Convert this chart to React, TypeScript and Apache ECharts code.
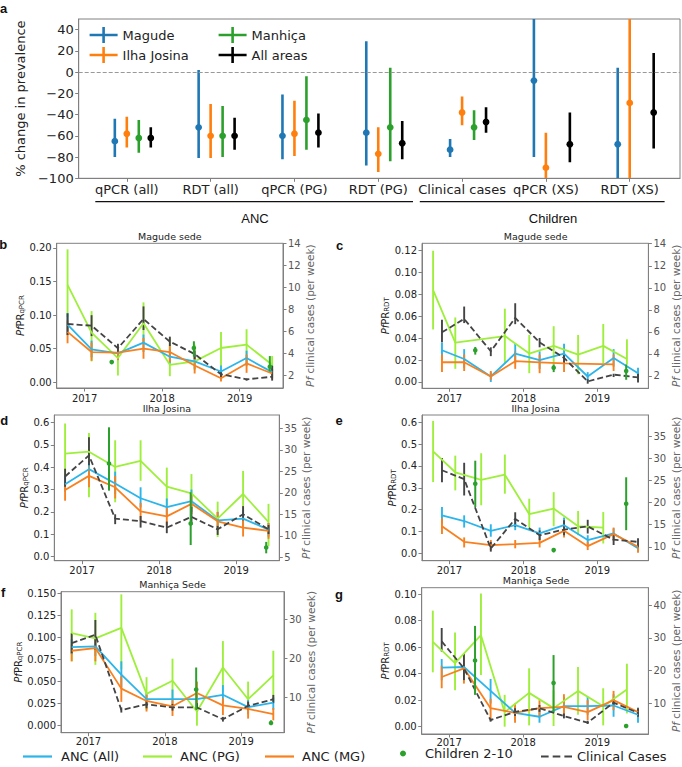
import React, { useEffect, useRef } from 'react';
import * as echarts from 'echarts';

const FONT = "'DejaVu Sans', 'Liberation Sans', sans-serif";
const HEAD_FONT = "'Liberation Sans', Arial, sans-serif";
const AX = '#808080';
const TXT = '#222';
const RTXT = '#555';

// ---------------- panel a ----------------
const groupLabels = ['qPCR (all)', 'RDT (all)', 'qPCR (PG)', 'RDT (PG)', 'Clinical cases', 'qPCR (XS)', 'RDT (XS)'];
// [estimate, low, high]
const magudeChange = [[-65, -80, -44], [-52, -81, 2], [-60, -82, -21], [-57, -88, 29], [-73, -80, -63], [-8, -80, 50], [-68, -100, 4]];
const ilhaJosinaChange = [[-58, -71, -42], [-60, -81, -30], [-58, -79, -27], [-77, -94, -52], [-38, -50, -23], [-90, -100, -57], [-29, -100, 50]];
const manhicaChange = [[-62, -76, -45], [-60, -80, -32], [-45, -73, -4], [-52, -84, 4], [-52, -64, -36], null, null];
const allAreasChange = [[-62, -71, -52], [-60, -73, -43], [-57, -71, -39], [-67, -82, -46], [-47, -57, -33], [-68, -85, -38], [-38, -72, 18]];
const changeTicks = [-100, -80, -60, -40, -20, 0, 20, 40];

// ---------------- time points ----------------
const tAncLeft = [2016.78, 2017.09, 2017.43, 2017.76, 2018.10, 2018.42, 2018.76, 2019.09, 2019.42];
const tAncRight = [2016.90, 2017.20, 2017.56, 2017.89, 2018.22, 2018.55, 2018.87, 2019.22, 2019.55];
const tPgRight = [2016.78, 2017.08, 2017.43, 2017.75, 2018.08, 2018.41, 2018.74, 2019.08, 2019.40];
const tChildren = [2017.35, 2018.41, 2019.39];
const yearTicks = [2017, 2018, 2019];

// ---------------- b: Magude qPCR ----------------
const bAncAll = [[0.086, 0.070, 0.103], [0.049, 0.037, 0.062], [0.043, 0.033, 0.052], [0.059, 0.045, 0.071], [0.038, 0.028, 0.050], [0.031, 0.020, 0.042], [0.016, 0.008, 0.025], [0.036, 0.024, 0.047], [0.015, 0.007, 0.025]];
const bAncPg = [[0.145, 0.097, 0.198], [0.074, 0.031, 0.106], [0.036, 0.010, 0.055], [0.088, 0.056, 0.119], [0.026, 0.009, 0.066], [0.031, 0.018, 0.056], [0.051, 0.024, 0.075], [0.056, 0.026, 0.079], [0.026, 0.016, 0.039]];
const bAncMg = [[0.075, 0.058, 0.092], [0.045, 0.032, 0.059], [0.044, 0.033, 0.055], [0.050, 0.035, 0.066], [0.045, 0.030, 0.055], [0.025, 0.013, 0.038], [0.006, 0.001, 0.012], [0.028, 0.014, 0.041], [0.013, 0.005, 0.020]];
const bKids = [[0.030, 0.027, 0.033], [0.051, 0.038, 0.061], [0.023, 0.016, 0.039]];
const bClin = [[6.7, 5.7, 7.67], [6.55, 5.6, 7.5], [4.5, 4.1, 4.9], [7.15, 6.15, 8.3], [5.1, 4.7, 5.55], [3.97, 3.5, 4.3], [2.13, 1.85, 2.4], [1.67, 1.55, 1.75], [1.9, 1.55, 2.9]];
const bLeftTicks = [0, 0.05, 0.10, 0.15, 0.20];
const bRightTicks = [2, 4, 6, 8, 10, 12, 14];

// ---------------- c: Magude RDT ----------------
const cAncAll = [[0.029, 0.020, 0.036], [0.021, 0.013, 0.030], [0.005, 0.000, 0.009], [0.026, 0.017, 0.035], [0.020, 0.012, 0.028], [0.026, 0.017, 0.035], [0.005, 0.001, 0.009], [0.022, 0.014, 0.030], [0.008, 0.003, 0.013]];
const cAncPg = [[0.084, 0.048, 0.120], [0.036, 0.012, 0.059], null, [0.042, 0.017, 0.067], [0.026, 0.008, 0.043], [0.033, 0.016, 0.051], [0.025, 0.007, 0.043], [0.033, 0.017, 0.053], [0.021, 0.016, 0.039]];
const cAncMg = [[0.018, 0.009, 0.025], [0.018, 0.010, 0.025], [0.005, 0.002, 0.010], [0.019, 0.012, 0.028], [0.018, 0.008, 0.025], [0.017, 0.009, 0.024], null, [0.016, 0.010, 0.025], null];
const cKids = [[0.029, 0.025, 0.032], [0.013, 0.009, 0.016], [0.010, 0.002, 0.016]];
const cClin = [[5.96, 5.05, 7.1], [7.18, 6.8, 8.3], [4.24, 3.8, 4.6], [7.27, 6.7, 8.6], [5.05, 4.6, 5.45], [3.64, 3.2, 3.9], [1.5, 1.3, 1.7], [2.12, 1.9, 2.2], [1.87, 1.4, 2.2]];
const cLeftTicks = [0, 0.02, 0.04, 0.06, 0.08, 0.10, 0.12];
const cRightTicks = [2, 4, 6, 8, 10, 12, 14];

// ---------------- d: Ilha Josina qPCR ----------------
const dAncAll = [[0.324, 0.29, 0.36], [0.391, 0.35, 0.43], [0.327, 0.28, 0.38], [0.261, 0.22, 0.31], [0.221, 0.18, 0.26], [0.248, 0.20, 0.30], [0.162, 0.13, 0.20], [0.17, 0.13, 0.21], [0.121, 0.09, 0.15]];
const dAncPg = [[0.46, 0.36, 0.595], [0.469, 0.265, 0.553], [0.401, 0.243, 0.52], [0.428, 0.339, 0.52], [0.313, 0.229, 0.398], [0.283, 0.214, 0.369], [0.17, 0.088, 0.246], [0.28, 0.14, 0.383], [0.155, 0.047, 0.236]];
const dAncMg = [[0.298, 0.25, 0.34], [0.361, 0.31, 0.40], [0.31, 0.26, 0.36], [0.202, 0.16, 0.24], [0.18, 0.14, 0.22], [0.236, 0.19, 0.28], [0.158, 0.12, 0.20], [0.13, 0.09, 0.17], [0.115, 0.08, 0.15]];
const dKids = [[0.416, 0.295, 0.578], [0.148, 0.052, 0.288], [0.041, 0.015, 0.066]];
const dClin = [[23.8, 21.4, 25.6], [28.7, 26.4, 32.9], [14.0, 12.7, 15.0], [13.4, 11.9, 14.6], [11.9, 10.6, 13.3], [14.4, 12.5, 16.7], [11.5, 10.2, 12.3], [15.0, 13.6, 16.9], [11.5, 10.4, 12.5]];
const dLeftTicks = [0, 0.1, 0.2, 0.3, 0.4, 0.5, 0.6];
const dRightTicks = [5, 10, 15, 20, 25, 30, 35];

// ---------------- e: Ilha Josina RDT ----------------
const eAncAll = [[0.174, 0.136, 0.212], [0.148, 0.118, 0.174], [0.103, 0.076, 0.133], [0.129, 0.106, 0.159], [0.091, 0.064, 0.118], [0.129, 0.106, 0.164], [0.061, 0.038, 0.083], [0.091, 0.068, 0.114], [0.023, 0.008, 0.042]];
const eAncPg = [[0.467, 0.326, 0.606], [0.371, 0.288, 0.447], [0.336, 0.22, 0.458], [0.36, 0.273, 0.452], [0.179, 0.118, 0.25], [0.205, 0.124, 0.28], [0.124, 0.083, 0.194], [0.118, 0.045, 0.189], null];
const eAncMg = [[0.124, 0.088, 0.159], [0.053, 0.027, 0.073], [0.038, 0.015, 0.061], [0.042, 0.023, 0.061], [0.048, 0.027, 0.068], [0.103, 0.073, 0.129], [0.033, 0.015, 0.053], [0.088, 0.058, 0.118], [0.03, 0.003, 0.045]];
const eKids = [[0.318, 0.212, 0.424], [0.015, 0.005, 0.023], [0.227, 0.106, 0.348]];
const eClin = [[27.3, 24.6, 30.1], [25.3, 21.6, 29.0], [9.6, 8.9, 11.1], [16.3, 14.5, 17.8], [12.6, 11.5, 13.7], [13.9, 12.6, 16.0], [14.6, 13.0, 16.1], [11.6, 10.4, 13.0], [11.1, 9.9, 11.9]];
const eLeftTicks = [0, 0.1, 0.2, 0.3, 0.4, 0.5, 0.6];
const eRightTicks = [10, 15, 20, 25, 30, 35, 40];

// ---------------- f: Manhiça qPCR ----------------
const fAncAll = [[0.089, 0.081, 0.098], [0.090, 0.079, 0.100], [0.058, 0.043, 0.073], [0.030, 0.022, 0.037], [0.030, 0.022, 0.041], [0.030, 0.022, 0.039], [0.035, 0.025, 0.046], [0.021, 0.013, 0.029], [0.026, 0.018, 0.032]];
const fAncPg = [[0.105, 0.073, 0.132], [0.099, 0.069, 0.128], [0.111, 0.064, 0.149], [0.036, 0.018, 0.055], [0.051, 0.029, 0.076], [0.016, 0.000, 0.029], [0.066, 0.038, 0.096], [0.030, 0.016, 0.050], [0.057, 0.027, 0.085]];
const fAncMg = [[0.085, 0.073, 0.092], [0.088, 0.073, 0.098], [0.042, 0.027, 0.056], [0.028, 0.016, 0.035], [0.022, 0.011, 0.029], [0.037, 0.025, 0.050], [0.023, 0.012, 0.031], [0.019, 0.008, 0.027], [0.013, 0.006, 0.020]];
const fKids = [null, [0.041, 0.018, 0.066], [0.003, 0.001, 0.006]];
const fClin = [[23.9, 21.3, 26.4], [26.0, 22.2, 29.8], [6.85, 6.2, 7.5], [8.3, 7.3, 9.2], [7.5, 6.7, 8.4], [7.5, 6.4, 8.6], [4.5, 3.9, 5.1], [7.9, 6.9, 9.0], [9.6, 8.6, 10.7]];
const fLeftTicks = [0, 0.025, 0.05, 0.075, 0.1, 0.125, 0.15];
const fRightTicks = [10, 20, 30];

// ---------------- g: Manhiça RDT ----------------
const gAncAll = [[0.0445, 0.035, 0.051], [0.045, 0.039, 0.050], [0.027, 0.0175, 0.036], [0.0105, 0.005, 0.015], [0.0075, 0.003, 0.013], [0.0155, 0.009, 0.0225], [0.0155, 0.009, 0.0225], [0.016, 0.0075, 0.0245], [0.009, 0.003, 0.0145]];
const gAncPg = [[0.064, 0.041, 0.0875], [0.048, 0.0275, 0.071], [0.069, 0.039, 0.1005], [0.011, 0.000, 0.024], [0.0255, 0.001, 0.044], [0.014, 0.0005, 0.0275], [0.027, 0.009, 0.045], [0.0155, 0.001, 0.029], [0.028, 0.010, 0.0475]];
const gAncMg = [[0.0375, 0.029, 0.046], [0.044, 0.0325, 0.055], [0.014, 0.006, 0.021], [0.0105, 0.003, 0.0175], [0.014, 0.007, 0.020], [0.015, 0.008, 0.0245], [0.011, 0.005, 0.020], [0.020, 0.0125, 0.027], [0.011, 0.0075, 0.014]];
const gKids = [[0.050, 0.024, 0.076], [0.033, 0.011, 0.054], [0.0005, 0.000, 0.001]];
const gClin = [[28.9, 25.8, 33.0], [20.7, 17.1, 25.3], [4.9, 4.4, 5.4], [7.4, 6.1, 8.5], [8.5, 7.4, 9.5], [6.1, 5.4, 6.9], [4.1, 3.7, 4.7], [10.2, 9.2, 11.2], [7.1, 5.9, 8.5]];
const gLeftTicks = [0, 0.02, 0.04, 0.06, 0.08, 0.10];
const gRightTicks = [10, 20, 30, 40];

// ---------------- styling / layout ----------------
const CYAN = '#2cb5ea';
const PG = '#9eef3c';
const ORANGE = '#f8801f';
const KID = '#2ca02c';
const CLIN = '#444444';
const AREA_COLORS = ['#1f77b4', '#ff7f0e', '#2ca02c', '#000000'];
const AREA_OFFSETS = [-0.143, 0, 0.143, 0.286];
const LEFT_X = [2016.64, 2019.56];
const RIGHT_X = [2016.63, 2019.69];

const panels = [
  { letter: 'b', lp: [3.3, 244.5], title: 'Magude sede', test: 'qPCR', col: 'L', box: [56.7, 243.3, 226.3, 144.7], all: bAncAll, pg: bAncPg, mg: bAncMg, kids: bKids, clin: bClin, lt: bLeftTicks, ld: 2, lr: [-0.0086, 0.207], rt: bRightTicks, rr: [0.88, 14.04], lg: 28, xm: 5 },
  { letter: 'c', lp: [339.5, 245.3], title: 'Magude sede', test: 'RDT', col: 'R', box: [422, 243.3, 227.3, 145], all: cAncAll, pg: cAncPg, mg: cAncMg, kids: cKids, clin: cClin, lt: cLeftTicks, ld: 2, lr: [-0.0058, 0.1268], rt: cRightTicks, rr: [0.88, 14.04], lg: 24, xm: 5 },
  { letter: 'd', lp: [4.3, 420.5], title: 'Ilha Josina', test: 'qPCR', col: 'L', box: [54.3, 415, 225, 145.7], all: dAncAll, pg: dAncPg, mg: dAncMg, kids: dKids, clin: dClin, lt: dLeftTicks, ld: 1, lr: [-0.018, 0.633], rt: dRightTicks, rr: [4.2, 38.1], lg: 23, xm: 5 },
  { letter: 'e', lp: [339, 420.5], title: 'Ilha Josina', test: 'RDT', col: 'R', box: [422, 415, 227.3, 145.7], all: eAncAll, pg: eAncPg, mg: eAncMg, kids: eKids, clin: eClin, lt: eLeftTicks, ld: 1, lr: [-0.0336, 0.633], rt: eRightTicks, rr: [6.85, 39.8], lg: 22, xm: 5 },
  { letter: 'f', lp: [3.2, 592.5], title: 'Manhiça Sede', test: 'qPCR', col: 'L', box: [61, 591.7, 223, 141], all: fAncAll, pg: fAncPg, mg: fAncMg, kids: fKids, clin: fClin, lt: fLeftTicks, ld: 3, lr: [-0.008, 0.152], rt: fRightTicks, rr: [1.07, 37.0], lg: 30, xm: 4 },
  { letter: 'g', lp: [339, 594], title: 'Manhiça Sede', test: 'RDT', col: 'R', box: [421.7, 587.7, 228.6, 146.3], all: gAncAll, pg: gAncPg, mg: gAncMg, kids: gKids, clin: gClin, lt: gLeftTicks, ld: 2, lr: [-0.0055, 0.1048], rt: gRightTicks, rr: [0.64, 45.3], lg: 22, xm: 3 },
];

function errRender(color: string, width: number, dotR: number) {
  return (params: any, api: any) => {
    const x = api.value(0);
    const a = api.coord([x, api.value(1)]);
    const b = api.coord([x, api.value(2)]);
    const kids: any[] = [
      { type: 'line', shape: { x1: a[0], y1: a[1], x2: b[0], y2: b[1] }, style: { stroke: color, lineWidth: width } },
    ];
    if (dotR > 0) {
      const c = api.coord([x, api.value(3)]);
      kids.push({ type: 'circle', shape: { cx: c[0], cy: c[1], r: dotR }, style: { fill: color } });
    }
    return { type: 'group', children: kids };
  };
}

function toLine(t: number[], arr: any[]) {
  const out: any[] = [];
  arr.forEach((d, i) => { if (d) out.push([t[i], d[0]]); });
  return out;
}
function toErr(t: number[], arr: any[]) {
  const out: any[] = [];
  arr.forEach((d, i) => { if (d) out.push([t[i], d[1], d[2], d[0]]); });
  return out;
}

const ERR_ICON = 'path://M0,6.7H28V9.3H0Z M12.7,0H15.3V16H12.7Z';
const LINE_ICON = 'path://M0,0H29V2.2H0Z';
const DASH_ICON = 'path://M0,0H7.5V2.2H0Z M11.5,0H19V2.2H11.5Z M23,0H30.5V2.2H23Z';

function buildOption() {
  const grids: any[] = [];
  const xAxes: any[] = [];
  const yAxes: any[] = [];
  const series: any[] = [];
  const graphics: any[] = [];

  // ---- panel a ----
  grids.push({ left: 78.7, top: 19, width: 601.3, height: 159.3, show: true, borderColor: AX, borderWidth: 1, backgroundColor: 'transparent' });
  const idx = groupLabels.map((_, i) => i);
  xAxes.push({
    type: 'value', gridIndex: 0, min: -0.574, max: 6.6, position: 'bottom',
    axisLine: { show: true, onZero: false, lineStyle: { color: AX } },
    axisTick: { show: true, customValues: idx, length: 3.5, lineStyle: { color: AX } },
    axisLabel: { customValues: idx, formatter: (v: number) => groupLabels[Math.round(v)], fontSize: 13, color: TXT, fontFamily: FONT, margin: 5 },
    splitLine: { show: false },
  });
  yAxes.push({
    type: 'value', gridIndex: 0, min: -100, max: 50,
    axisLine: { show: true, onZero: false, lineStyle: { color: AX } },
    axisTick: { show: true, customValues: changeTicks, length: 3.5, lineStyle: { color: AX } },
    axisLabel: { customValues: changeTicks, formatter: (v: number) => (v < 0 ? '\u2212' + Math.abs(v) : String(v)), fontSize: 13, color: TXT, fontFamily: FONT, margin: 5 },
    splitLine: { show: false },
    name: '% change in prevalence', nameLocation: 'middle', nameGap: 41, nameRotate: 90,
    nameTextStyle: { fontSize: 13, color: TXT, fontFamily: FONT },
  });

  const areas: any[] = [['Magude', magudeChange], ['Ilha Josina', ilhaJosinaChange], ['Manhiça', manhicaChange], ['All areas', allAreasChange]];
  areas.forEach(([name, arr], k) => {
    const data: any[] = [];
    arr.forEach((d: any, i: number) => { if (d) data.push([i + AREA_OFFSETS[k], d[1], d[2], d[0]]); });
    const color = AREA_COLORS[k];
    const s: any = {
      type: 'custom', name, xAxisIndex: 0, yAxisIndex: 0, data, clip: true, silent: true,
      itemStyle: { color }, renderItem: errRender(color, 2.6, 3.4), z: 3,
    };
    if (k === 0) {
      s.markLine = {
        silent: true, symbol: ['none', 'none'], label: { show: false }, animation: false,
        lineStyle: { type: 'dashed', color: '#999999', width: 1, opacity: 1 }, data: [{ yAxis: 0 }],
      };
    }
    series.push(s);
  });
  graphics.push({ type: 'text', x: 3.5, y: 8, style: { text: 'a', fontSize: 13, fontWeight: 'bold', fontFamily: HEAD_FONT, fill: '#111', align: 'center', verticalAlign: 'middle', textAlign: 'center', textVerticalAlign: 'middle' } });
  // group headers
  graphics.push({ type: 'line', shape: { x1: 95.3, y1: 201.7, x2: 413, y2: 201.7 }, style: { stroke: '#111', lineWidth: 1.3 } });
  graphics.push({ type: 'line', shape: { x1: 419.8, y1: 201.7, x2: 664.6, y2: 201.7 }, style: { stroke: '#111', lineWidth: 1.3 } });
  graphics.push({ type: 'text', x: 255, y: 218, style: { text: 'ANC', fontSize: 13, fontFamily: HEAD_FONT, fill: '#111', align: 'center', verticalAlign: 'middle', textAlign: 'center', textVerticalAlign: 'middle' } });
  graphics.push({ type: 'text', x: 553, y: 218, style: { text: 'Children', fontSize: 13, fontFamily: HEAD_FONT, fill: '#111', align: 'center', verticalAlign: 'middle', textAlign: 'center', textVerticalAlign: 'middle' } });

  // ---- time panels ----
  panels.forEach((p, k) => {
    const gi = k + 1;
    const [l, t, w, h] = p.box;
    grids.push({ left: l, top: t, width: w, height: h, show: true, borderColor: AX, borderWidth: 1, backgroundColor: 'transparent' });
    const xr = p.col === 'L' ? LEFT_X : RIGHT_X;
    xAxes.push({
      type: 'value', gridIndex: gi, min: xr[0], max: xr[1], position: 'bottom',
      axisLine: { show: true, onZero: false, lineStyle: { color: AX } },
      axisTick: { show: true, customValues: yearTicks, length: 3.5, lineStyle: { color: AX } },
      axisLabel: { customValues: yearTicks, formatter: (v: number) => String(Math.round(v)), fontSize: 10, color: TXT, fontFamily: FONT, margin: p.xm },
      splitLine: { show: false },
    });
    const li = yAxes.length;
    yAxes.push({
      type: 'value', gridIndex: gi, position: 'left', min: p.lr[0], max: p.lr[1],
      axisLine: { show: true, onZero: false, lineStyle: { color: AX } },
      axisTick: { show: true, customValues: p.lt, length: 3.5, lineStyle: { color: AX } },
      axisLabel: { customValues: p.lt, formatter: (v: number) => v.toFixed(p.ld), fontSize: 10, color: TXT, fontFamily: FONT, margin: 5 },
      splitLine: { show: false },
      name: '{i|Pf}PR{s|' + p.test + '}', nameLocation: 'middle', nameGap: p.lg, nameRotate: 90,
      nameTextStyle: {
        fontSize: 10, color: TXT, fontFamily: FONT,
        rich: { i: { fontSize: 10, fontStyle: 'italic', color: TXT, fontFamily: FONT }, s: { fontSize: 7, color: TXT, fontFamily: FONT, verticalAlign: 'bottom' } },
      },
    });
    yAxes.push({
      type: 'value', gridIndex: gi, position: 'right', min: p.rr[0], max: p.rr[1],
      axisLine: { show: true, onZero: false, lineStyle: { color: AX } },
      axisTick: { show: true, customValues: p.rt, length: 3.5, lineStyle: { color: AX } },
      axisLabel: { customValues: p.rt, formatter: (v: number) => String(v), fontSize: 10, color: RTXT, fontFamily: FONT, margin: 5 },
      splitLine: { show: false },
      name: '{i|Pf} clinical cases (per week)', nameLocation: 'middle', nameGap: 17, nameRotate: 90,
      nameTextStyle: {
        fontSize: 10.5, color: '#666', fontFamily: FONT,
        rich: { i: { fontSize: 10.5, fontStyle: 'italic', color: '#666', fontFamily: FONT } },
      },
    });
    const tAnc = p.col === 'L' ? tAncLeft : tAncRight;
    const tPg = p.col === 'L' ? tAncLeft : tPgRight;
    const add = (name: string, arr: any[], tt: number[], color: string, yi: number, dashed: boolean) => {
      series.push({
        type: 'line', name, xAxisIndex: gi, yAxisIndex: yi, data: toLine(tt, arr), symbol: 'none', showSymbol: false, silent: true,
        lineStyle: { color, width: 1.8, type: dashed ? [6, 3] : 'solid' }, itemStyle: { color }, z: 2,
      });
      series.push({
        type: 'custom', name: name + ' CI', xAxisIndex: gi, yAxisIndex: yi, data: toErr(tt, arr), silent: true,
        itemStyle: { color }, renderItem: errRender(color, 1.9, 0), z: 2,
      });
    };
    add('ANC (PG)', p.pg, tPg, PG, li, false);
    add('ANC (All)', p.all, tAnc, CYAN, li, false);
    add('ANC (MG)', p.mg, tAnc, ORANGE, li, false);
    series.push({
      type: 'custom', name: 'Children 2-10', xAxisIndex: gi, yAxisIndex: li, data: toErr(tChildren, p.kids), silent: true,
      itemStyle: { color: KID }, renderItem: errRender(KID, 2, 2.3), z: 3,
    });
    add('Clinical Cases', p.clin, tAnc, CLIN, li + 1, true);

    graphics.push({ type: 'text', x: l + w / 2, y: t - 7, style: { text: p.title, fontSize: 9.5, fontFamily: FONT, fill: TXT, align: 'center', verticalAlign: 'middle', textAlign: 'center', textVerticalAlign: 'middle' } });
    graphics.push({ type: 'text', x: p.lp[0], y: p.lp[1], style: { text: p.letter, fontSize: 13, fontWeight: 'bold', fontFamily: HEAD_FONT, fill: '#111', align: 'center', verticalAlign: 'middle', textAlign: 'center', textVerticalAlign: 'middle' } });
  });

  const legText = { fontSize: 13, color: TXT, fontFamily: FONT };
  const LT = 750;
  const legends: any[] = [
    { data: ['Magude', 'Ilha Josina'], orient: 'vertical', left: 89.6, top: 27, itemWidth: 28, itemHeight: 16, itemGap: 4, icon: ERR_ICON, textStyle: legText, padding: 0, selectedMode: false },
    { data: ['Manhiça', 'All areas'], orient: 'vertical', left: 218.6, top: 27, itemWidth: 28, itemHeight: 16, itemGap: 4, icon: ERR_ICON, textStyle: legText, padding: 0, selectedMode: false },
    { data: ['ANC (All)'], left: 23, top: LT, itemWidth: 29, itemHeight: 14, icon: LINE_ICON, textStyle: { ...legText, padding: [0, 0, 0, 4] }, padding: 0, selectedMode: false },
    { data: ['ANC (PG)'], left: 143, top: LT, itemWidth: 29, itemHeight: 14, icon: LINE_ICON, textStyle: { ...legText, padding: [0, 0, 0, 3] }, padding: 0, selectedMode: false },
    { data: ['ANC (MG)'], left: 265, top: LT, itemWidth: 29, itemHeight: 14, icon: LINE_ICON, textStyle: { ...legText, padding: [0, 0, 0, 3] }, padding: 0, selectedMode: false },
    { data: ['Children 2-10'], left: 400, top: LT - 3, itemWidth: 6, itemHeight: 14, icon: 'circle', textStyle: { ...legText, padding: [0, 0, 0, 14] }, padding: 0, selectedMode: false },
    { data: ['Clinical Cases'], left: 541, top: LT, itemWidth: 31, itemHeight: 14, icon: DASH_ICON, textStyle: { ...legText, padding: [0, 0, 0, 0] }, padding: 0, selectedMode: false },
  ];

  return {
    animation: false,
    backgroundColor: '#ffffff',
    textStyle: { fontFamily: FONT },
    grid: grids,
    xAxis: xAxes,
    yAxis: yAxes,
    legend: legends,
    series,
    graphic: graphics,
  };
}

export default function App() {
  const ref = useRef<HTMLDivElement>(null);
  useEffect(() => {
    if (!ref.current) return;
    const chart = echarts.init(ref.current, undefined, { renderer: 'svg' });
    chart.setOption(buildOption() as any);
    return () => chart.dispose();
  }, []);
  return <div ref={ref} style={{ position: 'fixed', left: 0, top: 0, width: 682, height: 767, background: '#fff' }} />;
}
